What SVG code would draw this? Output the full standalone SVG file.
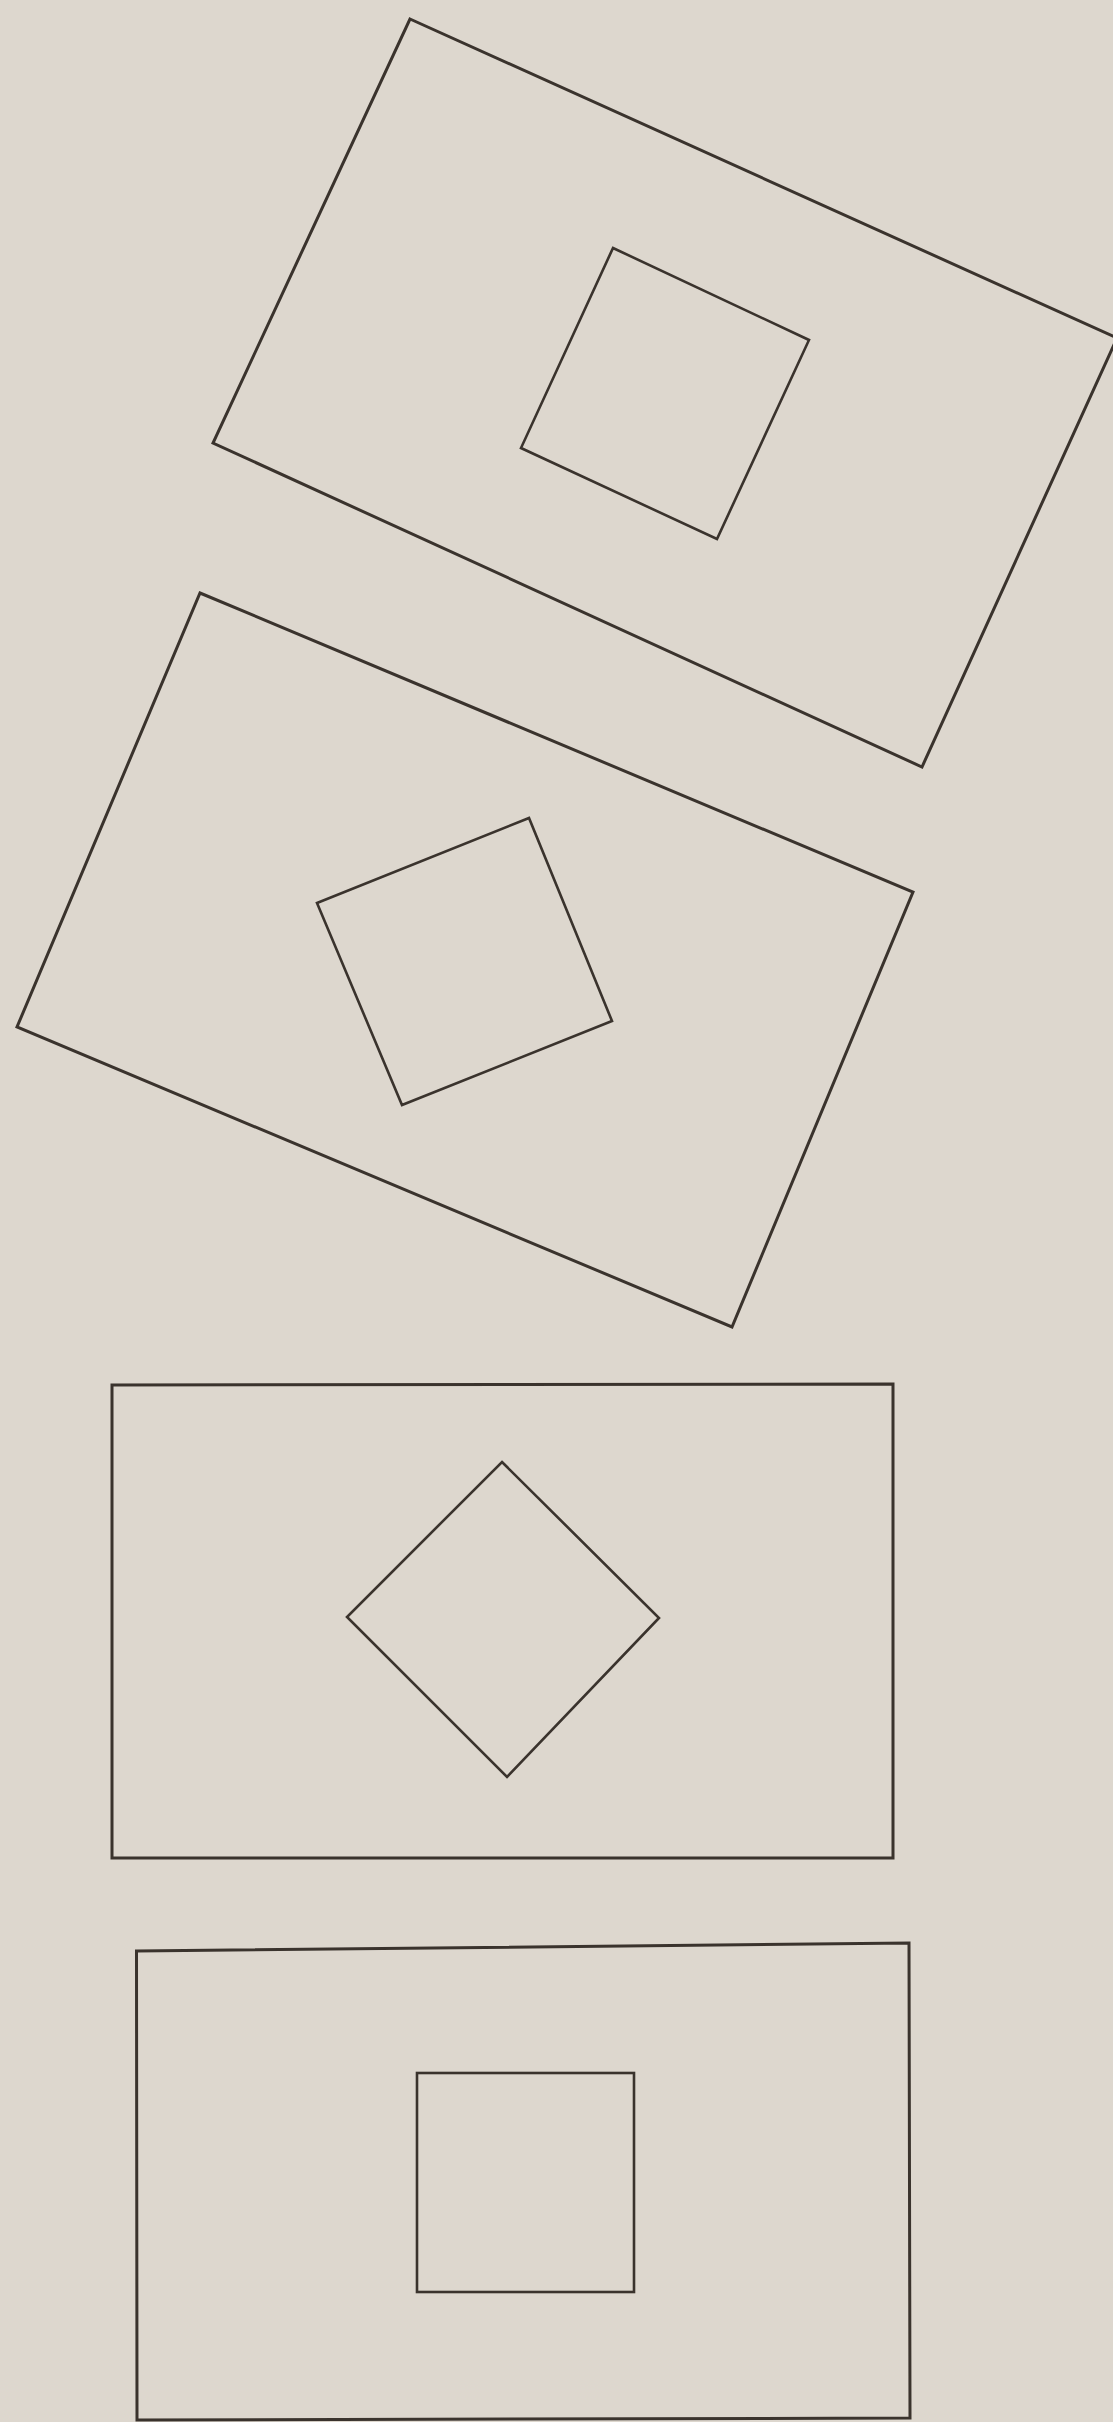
<svg xmlns="http://www.w3.org/2000/svg" width="1113" height="2422" viewBox="0 0 1113 2422">
<style>
.s{fill:none;stroke:#3a332d;stroke-width:3;stroke-linejoin:miter}
.i{fill:none;stroke:#3a332d;stroke-width:2.6;stroke-linejoin:miter}
</style>
<rect x="0" y="0" width="1113" height="2422" fill="#ddd7ce"/>
<g id="fig1">
<polygon class="s" points="410,19 1117,338 922,767 213,443"/>
<polygon class="i" points="613,248 809,340 717,539 521,448"/>
</g>
<g id="fig2">
<polygon class="s" points="200,593 913,892 732,1327 17,1027"/>
<polygon class="i" points="317,903 529,818 612,1021 402,1105"/>
</g>
<g id="fig3">
<polygon class="s" points="112,1385 893,1384 893,1858 112,1858"/>
<polygon class="i" points="502,1462 659,1618 507,1777 347,1617"/>
</g>
<g id="fig4">
<polygon class="s" points="136.5,1951 909,1943 910,2418 137,2420"/>
<rect class="i" x="417" y="2073" width="217" height="219"/>
</g>
<g id="connectors"/>
</svg>
